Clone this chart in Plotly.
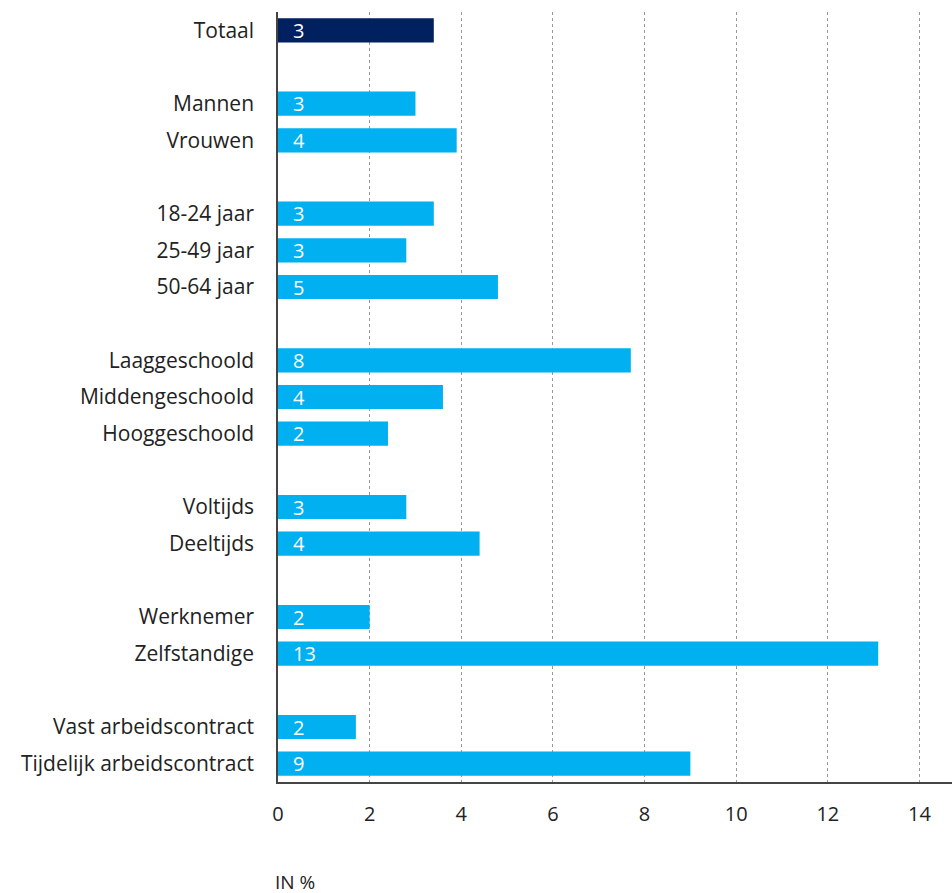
import plotly.graph_objects as go

categories = ["Totaal", "", "Mannen", "Vrouwen", " ", "18-24 jaar", "25-49 jaar", "50-64 jaar",
              "  ", "Laaggeschoold", "Middengeschoold", "Hooggeschoold", "   ",
              "Voltijds", "Deeltijds", "    ", "Werknemer", "Zelfstandige", "     ",
              "Vast arbeidscontract", "Tijdelijk arbeidscontract"]
values = [3.4, None, 3.0, 3.9, None, 3.4, 2.8, 4.8, None, 7.7, 3.6, 2.4, None,
          2.8, 4.4, None, 2.0, 13.1, None, 1.7, 9.0]
tick_vals = [0, 2, 4, 6, 8, 10, 12, 14]

NAVY = "#002060"
BLUE = "#00B0F0"
colors = [NAVY if c == "Totaal" else BLUE for c in categories]

FONT = "Open Sans"

fig = go.Figure()
fig.add_trace(go.Bar(
    y=categories, x=values, orientation="h",
    marker=dict(color=colors, line=dict(width=0)),
    width=0.66, hoverinfo="skip",
))

for c, v in zip(categories, values):
    if v is None:
        continue
    fig.add_annotation(x=0, y=c, xref="x", yref="y", text=f"{round(v):d}",
                       showarrow=False, xanchor="left", xshift=13, yshift=0,
                       font=dict(family=FONT, size=20, color="white"))

fig.add_annotation(x=0, y=0, xref="paper", yref="paper", text="IN %",
                   showarrow=False, xanchor="left", yanchor="middle", xshift=-5, yshift=-100,
                   font=dict(family=FONT, size=19, color="#222222"))

fig.update_layout(
    width=952, height=893,
    margin=dict(l=278, r=0, t=12, b=111),
    plot_bgcolor="white", paper_bgcolor="white",
    showlegend=False,
    font=dict(family=FONT, size=20, color="#222222"),
    bargap=0.34,
)
fig.update_xaxes(
    range=[0, 14.71], tickvals=tick_vals, showgrid=True, gridcolor="#999999",
    griddash="dot", gridwidth=1, zeroline=False, showline=True, linecolor="#444444",
    linewidth=1.5, ticks="", ticklabelstandoff=13, tickfont=dict(size=20),
)
fig.update_yaxes(
    categoryorder="array", categoryarray=categories, autorange="reversed",
    showgrid=False, zeroline=False, showline=True, linecolor="#444444", linewidth=1.5,
    ticks="", ticklabelstandoff=18, tickfont=dict(size=21),
)

fig.write_html("out.html", config={"displayModeBar": False},
               post_script="document.body.style.margin='0';")
